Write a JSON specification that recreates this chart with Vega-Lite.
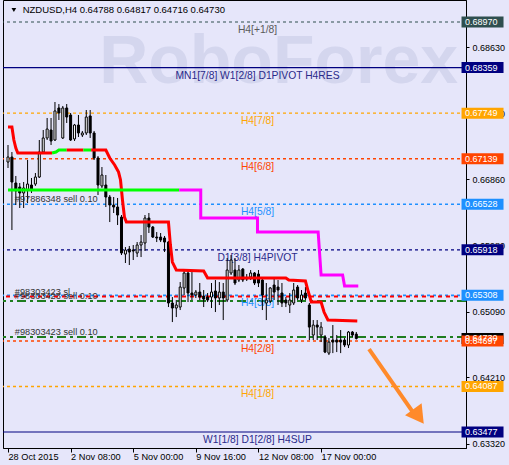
{
  "$schema": "https://vega.github.io/schema/vega-lite/v6.json",
  "width": 463,
  "height": 448,
  "autosize": "none",
  "padding": {"left": 3, "top": 0, "right": 43, "bottom": 17},
  "background": "#E6E6FA",
  "config": {"view": {"stroke": "black", "strokeWidth": 1}, "font": "Liberation Sans"},
  "datasets": {
    "candles": [
      {"i":0,"o":0.67094,"h":0.67322,"l":0.67014,"c":0.67161},
      {"i":1,"o":0.67161,"h":0.67228,"l":0.66183,"c":0.66826},
      {"i":2,"o":0.66813,"h":0.66907,"l":0.66518,"c":0.66706},
      {"i":3,"o":0.66759,"h":0.66813,"l":0.66478,"c":0.66679},
      {"i":4,"o":0.66679,"h":0.66826,"l":0.66478,"c":0.66746},
      {"i":5,"o":0.66719,"h":0.67121,"l":0.66545,"c":0.66799},
      {"i":6,"o":0.66786,"h":0.6688,"l":0.66679,"c":0.66719},
      {"i":7,"o":0.66799,"h":0.66947,"l":0.66773,"c":0.66893},
      {"i":8,"o":0.66893,"h":0.67389,"l":0.6688,"c":0.67228},
      {"i":9,"o":0.67228,"h":0.67523,"l":0.67215,"c":0.67416},
      {"i":10,"o":0.67416,"h":0.67684,"l":0.67389,"c":0.67536},
      {"i":11,"o":0.67523,"h":0.67684,"l":0.67322,"c":0.67376},
      {"i":12,"o":0.67389,"h":0.67898,"l":0.67376,"c":0.67778},
      {"i":13,"o":0.67818,"h":0.67871,"l":0.67657,"c":0.67751},
      {"i":14,"o":0.67416,"h":0.67845,"l":0.67403,"c":0.67818},
      {"i":15,"o":0.67818,"h":0.67871,"l":0.67617,"c":0.67697},
      {"i":16,"o":0.67724,"h":0.67751,"l":0.67376,"c":0.67389},
      {"i":17,"o":0.67403,"h":0.67604,"l":0.67376,"c":0.6759},
      {"i":18,"o":0.6759,"h":0.67724,"l":0.67429,"c":0.67483},
      {"i":19,"o":0.67456,"h":0.6751,"l":0.67429,"c":0.67483},
      {"i":20,"o":0.67483,"h":0.67791,"l":0.67456,"c":0.67697},
      {"i":21,"o":0.67711,"h":0.67791,"l":0.67416,"c":0.67483},
      {"i":22,"o":0.67483,"h":0.6751,"l":0.67121,"c":0.67148},
      {"i":23,"o":0.67148,"h":0.67174,"l":0.66652,"c":0.66786},
      {"i":24,"o":0.66773,"h":0.67027,"l":0.66746,"c":0.6692},
      {"i":25,"o":0.66786,"h":0.6692,"l":0.66491,"c":0.66625},
      {"i":26,"o":0.66625,"h":0.66652,"l":0.6629,"c":0.66518},
      {"i":27,"o":0.66518,"h":0.66625,"l":0.66411,"c":0.66491},
      {"i":28,"o":0.66491,"h":0.66612,"l":0.6625,"c":0.66384},
      {"i":29,"o":0.66357,"h":0.66384,"l":0.65848,"c":0.65875},
      {"i":30,"o":0.65861,"h":0.65955,"l":0.65741,"c":0.65915},
      {"i":31,"o":0.65928,"h":0.65969,"l":0.65714,"c":0.65888},
      {"i":32,"o":0.65915,"h":0.65982,"l":0.65781,"c":0.65902},
      {"i":33,"o":0.65875,"h":0.66022,"l":0.65821,"c":0.65982},
      {"i":34,"o":0.65982,"h":0.66116,"l":0.65821,"c":0.66022},
      {"i":35,"o":0.66009,"h":0.66384,"l":0.65902,"c":0.66344},
      {"i":36,"o":0.66344,"h":0.66411,"l":0.66143,"c":0.66223},
      {"i":37,"o":0.66223,"h":0.66237,"l":0.66076,"c":0.66089},
      {"i":38,"o":0.66089,"h":0.66156,"l":0.66022,"c":0.66076},
      {"i":39,"o":0.66089,"h":0.66143,"l":0.66022,"c":0.66049},
      {"i":40,"o":0.66076,"h":0.66103,"l":0.65888,"c":0.66022},
      {"i":41,"o":0.66022,"h":0.66036,"l":0.65151,"c":0.65205},
      {"i":42,"o":0.65205,"h":0.65285,"l":0.6495,"c":0.65138},
      {"i":43,"o":0.65138,"h":0.65245,"l":0.65017,"c":0.65178},
      {"i":44,"o":0.65151,"h":0.65486,"l":0.65111,"c":0.65419},
      {"i":45,"o":0.65406,"h":0.65647,"l":0.65312,"c":0.65607},
      {"i":46,"o":0.65607,"h":0.65647,"l":0.65218,"c":0.65339},
      {"i":47,"o":0.65339,"h":0.6562,"l":0.65245,"c":0.65312},
      {"i":48,"o":0.65312,"h":0.65379,"l":0.65272,"c":0.65352},
      {"i":49,"o":0.65352,"h":0.65473,"l":0.65245,"c":0.65285},
      {"i":50,"o":0.65299,"h":0.65379,"l":0.65151,"c":0.65258},
      {"i":51,"o":0.65285,"h":0.65339,"l":0.65218,"c":0.65245},
      {"i":52,"o":0.65285,"h":0.65473,"l":0.65138,"c":0.65352},
      {"i":53,"o":0.65366,"h":0.65513,"l":0.65084,"c":0.65272},
      {"i":54,"o":0.65272,"h":0.65486,"l":0.65178,"c":0.65352},
      {"i":55,"o":0.65352,"h":0.65473,"l":0.64977,"c":0.65272},
      {"i":56,"o":0.65245,"h":0.65808,"l":0.65218,"c":0.65647},
      {"i":57,"o":0.65607,"h":0.65848,"l":0.6558,"c":0.65781},
      {"i":58,"o":0.65647,"h":0.65808,"l":0.65446,"c":0.65473},
      {"i":59,"o":0.65513,"h":0.65714,"l":0.65486,"c":0.65647},
      {"i":60,"o":0.6566,"h":0.65674,"l":0.65486,"c":0.65513},
      {"i":61,"o":0.6554,"h":0.65593,"l":0.655,"c":0.65527},
      {"i":62,"o":0.65553,"h":0.65647,"l":0.65513,"c":0.65607},
      {"i":63,"o":0.65607,"h":0.6562,"l":0.65446,"c":0.65473},
      {"i":64,"o":0.65593,"h":0.65647,"l":0.65419,"c":0.65473},
      {"i":65,"o":0.65513,"h":0.6554,"l":0.65111,"c":0.65312},
      {"i":66,"o":0.65205,"h":0.65473,"l":0.64977,"c":0.65245},
      {"i":67,"o":0.65231,"h":0.65419,"l":0.65205,"c":0.65406},
      {"i":68,"o":0.65446,"h":0.6554,"l":0.65245,"c":0.65352},
      {"i":69,"o":0.65419,"h":0.65513,"l":0.65178,"c":0.65379},
      {"i":70,"o":0.65339,"h":0.65473,"l":0.65151,"c":0.65205},
      {"i":71,"o":0.65245,"h":0.65285,"l":0.65151,"c":0.65205},
      {"i":72,"o":0.65178,"h":0.65339,"l":0.65071,"c":0.65245},
      {"i":73,"o":0.65205,"h":0.65473,"l":0.65178,"c":0.65379},
      {"i":74,"o":0.65419,"h":0.65446,"l":0.65245,"c":0.65272},
      {"i":75,"o":0.65245,"h":0.65379,"l":0.65205,"c":0.65312},
      {"i":76,"o":0.65339,"h":0.65419,"l":0.65245,"c":0.65272},
      {"i":77,"o":0.65178,"h":0.65205,"l":0.64709,"c":0.64883},
      {"i":78,"o":0.64776,"h":0.64977,"l":0.64709,"c":0.6491},
      {"i":79,"o":0.6491,"h":0.64977,"l":0.64709,"c":0.64883},
      {"i":80,"o":0.64776,"h":0.6495,"l":0.64682,"c":0.64883},
      {"i":81,"o":0.64749,"h":0.64776,"l":0.64534,"c":0.64548},
      {"i":82,"o":0.64534,"h":0.64736,"l":0.64508,"c":0.64682},
      {"i":83,"o":0.64709,"h":0.6491,"l":0.64534,"c":0.64682},
      {"i":84,"o":0.64709,"h":0.64776,"l":0.64548,"c":0.64682},
      {"i":85,"o":0.64709,"h":0.64843,"l":0.64534,"c":0.64682},
      {"i":86,"o":0.64709,"h":0.64736,"l":0.64615,"c":0.64642},
      {"i":87,"o":0.64642,"h":0.6483,"l":0.64602,"c":0.64816},
      {"i":88,"o":0.64816,"h":0.6483,"l":0.64749,"c":0.64776},
      {"i":89,"o":0.64788,"h":0.64817,"l":0.64716,"c":0.6473}
    ],
    "levels": [
      {"p":0.6897,"label":"H4[+1/8]","kind":"gray"},
      {"p":0.68359,"label":"MN1[7/8] W1[2/8] D1PIVOT H4RES","kind":"navysolid"},
      {"p":0.67749,"label":"H4[7/8]","kind":"orange"},
      {"p":0.67139,"label":"H4[6/8]","kind":"red"},
      {"p":0.66528,"label":"H4[5/8]","kind":"blue"},
      {"p":0.65918,"label":"D1[3/8] H4PIVOT","kind":"navydash"},
      {"p":0.65308,"label":"H4[3/8]","kind":"blue"},
      {"p":0.64697,"label":"H4[2/8]","kind":"red"},
      {"p":0.64087,"label":"H4[1/8]","kind":"orange"},
      {"p":0.63477,"label":"W1[1/8] D1[2/8] H4SUP","kind":"navysolid"}
    ],
    "orders": [
      {"p":0.65292,"kind":"sl","t":"#98303423 sl"},
      {"p":0.65232,"kind":"order","t":"#98303423 sell 0.10"},
      {"p":0.64749,"kind":"order","t":"#98303423 sell 0.10"}
    ],
    "ind": [
      {"n":1,"seg":"a","kind":"dn","i":0,"p":0.67563},
      {"n":2,"seg":"a","kind":"dn","i":1,"p":0.67563},
      {"n":3,"seg":"a","kind":"dn","i":1.5,"p":0.67389},
      {"n":4,"seg":"a","kind":"dn","i":2,"p":0.67282},
      {"n":5,"seg":"a","kind":"dn","i":2.5,"p":0.67215},
      {"n":6,"seg":"a","kind":"dn","i":11.25,"p":0.67215},
      {"n":7,"seg":"b","kind":"up","i":11.25,"p":0.67215},
      {"n":8,"seg":"b","kind":"up","i":12.25,"p":0.67228},
      {"n":9,"seg":"b","kind":"up","i":13,"p":0.67255},
      {"n":10,"seg":"b","kind":"up","i":15,"p":0.67255},
      {"n":11,"seg":"c","kind":"dn","i":15,"p":0.67255},
      {"n":12,"seg":"c","kind":"dn","i":19.25,"p":0.67255},
      {"n":13,"seg":"d","kind":"up","i":19.25,"p":0.67255},
      {"n":14,"seg":"d","kind":"up","i":21.25,"p":0.67255},
      {"n":15,"seg":"e","kind":"dn","i":21.25,"p":0.67255},
      {"n":16,"seg":"e","kind":"dn","i":25,"p":0.67255},
      {"n":17,"seg":"e","kind":"dn","i":26,"p":0.67148},
      {"n":18,"seg":"e","kind":"dn","i":27.25,"p":0.67054},
      {"n":19,"seg":"e","kind":"dn","i":28.25,"p":0.6696},
      {"n":20,"seg":"e","kind":"dn","i":28.75,"p":0.66853},
      {"n":21,"seg":"e","kind":"dn","i":29.25,"p":0.66585},
      {"n":22,"seg":"e","kind":"dn","i":29.75,"p":0.66357},
      {"n":23,"seg":"e","kind":"dn","i":30.25,"p":0.6629},
      {"n":24,"seg":"e","kind":"dn","i":41,"p":0.6629},
      {"n":25,"seg":"e","kind":"dn","i":41.5,"p":0.65982},
      {"n":26,"seg":"e","kind":"dn","i":42,"p":0.65754},
      {"n":27,"seg":"e","kind":"dn","i":43,"p":0.65647},
      {"n":28,"seg":"e","kind":"dn","i":50,"p":0.65634},
      {"n":29,"seg":"e","kind":"dn","i":51,"p":0.6554},
      {"n":30,"seg":"e","kind":"dn","i":71,"p":0.6554},
      {"n":31,"seg":"e","kind":"dn","i":71.75,"p":0.65513},
      {"n":32,"seg":"e","kind":"dn","i":76,"p":0.655},
      {"n":33,"seg":"e","kind":"dn","i":76.75,"p":0.65352},
      {"n":34,"seg":"e","kind":"dn","i":77.5,"p":0.65218},
      {"n":35,"seg":"e","kind":"dn","i":80,"p":0.65218},
      {"n":36,"seg":"e","kind":"dn","i":80.75,"p":0.65084},
      {"n":37,"seg":"e","kind":"dn","i":81.75,"p":0.64977},
      {"n":38,"seg":"e","kind":"dn","i":89.25,"p":0.64963},
      {"n":39,"seg":"f","kind":"up","i":0,"p":0.66719},
      {"n":40,"seg":"f","kind":"up","i":43.75,"p":0.66719},
      {"n":41,"seg":"g","kind":"alt","i":43.75,"p":0.66719},
      {"n":42,"seg":"g","kind":"alt","i":49.25,"p":0.66719},
      {"n":43,"seg":"g","kind":"alt","i":49.25,"p":0.66344},
      {"n":44,"seg":"g","kind":"alt","i":63.75,"p":0.66344},
      {"n":45,"seg":"g","kind":"alt","i":63.75,"p":0.66156},
      {"n":46,"seg":"g","kind":"alt","i":79.25,"p":0.66156},
      {"n":47,"seg":"g","kind":"alt","i":80,"p":0.6558},
      {"n":48,"seg":"g","kind":"alt","i":85.5,"p":0.6558},
      {"n":49,"seg":"g","kind":"alt","i":86,"p":0.65433},
      {"n":50,"seg":"g","kind":"alt","i":89.5,"p":0.65433}
    ],
    "boxes": [
      {"p":0.6897,"kind":"gray"},
      {"p":0.68359,"kind":"navysolid"},
      {"p":0.67749,"kind":"orange"},
      {"p":0.67139,"kind":"red"},
      {"p":0.66528,"kind":"blue"},
      {"p":0.65918,"kind":"navydash"},
      {"p":0.65308,"kind":"blue"},
      {"p":0.6473,"kind":"price"},
      {"p":0.64697,"kind":"red"},
      {"p":0.64087,"kind":"orange"},
      {"p":0.63477,"kind":"navysolid"}
    ],
    "arrow": [
      {"n":1,"i":92.25,"p":0.64588},
      {"n":2,"i":103.5,"p":0.6374}
    ],
    "arrowhead": [
      {"i":104.9,"p":0.63685}
    ]
  },
  "layer": [
    {
      "data": {"values": [{"t": "RoboForex"}]},
      "mark": {"type": "text", "fontSize": 68, "fontWeight": "bold", "color": "#D4D6EE", "align": "left", "baseline": "middle", "font": "Liberation Sans"},
      "encoding": {
        "x": {"datum": 23.3, "type": "quantitative"},
        "y": {"datum": 0.68421, "type": "quantitative"},
        "text": {"field": "t"}
      }
    },
    {
      "data": {"name": "levels"},
      "mark": {"type": "rule"},
      "encoding": {
        "y": {"field": "p", "type": "quantitative"},
        "color": {"field": "kind", "type": "nominal", "legend": null, "scale": {"domain": ["gray","navysolid","navydash","orange","red","blue","price","sl","order","dn","up","alt"], "range": ["#2F4F4F","#000080","#000080","#FFA500","#FF4500","#1E90FF","#000000","#FF0000","#1E7D1E","#FF0000","#00FF00","#FF00FF"]}},
        "strokeDash": {"field": "kind", "type": "nominal", "legend": null, "scale": {"domain": ["gray","navysolid","navydash","orange","red","blue","price","sl","order"], "range": [[3,3],[1,0],[3,3],[3,3],[3,3],[3,3],[1,0],[4,4],[9,4,3,4]]}},
        "strokeWidth": {"field": "kind", "type": "nominal", "legend": null, "scale": {"domain": ["gray","navysolid","navydash","orange","red","blue","price","sl","order"], "range": [1,2,1,1,1,1,1,1,1.3]}}
      }
    },
    {
      "data": {"name": "orders"},
      "mark": {"type": "rule"},
      "encoding": {
        "y": {"field": "p", "type": "quantitative"},
        "color": {"field": "kind", "type": "nominal", "legend": null, "scale": {"domain": ["gray","navysolid","navydash","orange","red","blue","price","sl","order","dn","up","alt"], "range": ["#2F4F4F","#000080","#000080","#FFA500","#FF4500","#1E90FF","#000000","#FF0000","#1E7D1E","#FF0000","#00FF00","#FF00FF"]}},
        "strokeDash": {"field": "kind", "type": "nominal", "legend": null, "scale": {"domain": ["gray","navysolid","navydash","orange","red","blue","price","sl","order"], "range": [[3,3],[1,0],[3,3],[3,3],[3,3],[3,3],[1,0],[4,4],[9,4,3,4]]}},
        "strokeWidth": {"field": "kind", "type": "nominal", "legend": null, "scale": {"domain": ["gray","navysolid","navydash","orange","red","blue","price","sl","order"], "range": [1,2,1,1,1,1,1,1,1.3]}}
      }
    },
    {
      "data": {"name": "levels"},
      "mark": {"type": "text", "align": "center", "baseline": "top", "dy": 3, "fontSize": 10.3, "font": "Liberation Sans"},
      "encoding": {
        "x": {"datum": 63.75, "type": "quantitative"},
        "y": {"field": "p", "type": "quantitative"},
        "text": {"field": "label"},
        "fill": {"field": "kind", "type": "nominal", "legend": null, "scale": {"domain": ["gray","navysolid","navydash","orange","red","blue"], "range": ["#5A5A5A","#2A2A8A","#2A2A8A","#FFA500","#FF4500","#1E90FF"]}}
      }
    },
    {
      "data": {"name": "candles"},
      "mark": {"type": "rule", "color": "black", "strokeWidth": 1},
      "encoding": {
        "x": {"field": "i", "type": "quantitative", "scale": {"domain": [0, 115.75], "nice": false, "zero": false},
          "axis": {"values": [0,16,32,48,64,80], "title": null, "grid": false, "domainColor": "black", "tickColor": "black", "tickSize": 4, "labelAlign": "left", "labelBaseline": "top", "labelPadding": 0, "labelFontSize": 9.2, "labelFont": "Liberation Sans", "labelColor": "black", "labelFlush": false, "labelOverlap": false,
            "labelExpr": "datum.value==0?'28 Oct 2015':datum.value==16?'2 Nov 08:00':datum.value==32?'5 Nov 00:00':datum.value==48?'9 Nov 16:00':datum.value==64?'12 Nov 08:00':'17 Nov 00:00'"}},
        "y": {"field": "l", "type": "quantitative", "scale": {"domain": [0.632625, 0.692648], "nice": false, "zero": false},
          "axis": {"orient": "right", "values": [0.6907,0.6863,0.6819,0.6775,0.673,0.6686,0.6642,0.6598,0.6553,0.6509,0.6465,0.6421,0.6376,0.6332], "format": ".5f", "title": null, "grid": false, "domainColor": "black", "tickColor": "black", "tickSize": 3, "labelAlign": "left", "labelBaseline": "middle", "labelPadding": 3, "labelFontSize": 9, "labelFont": "Liberation Sans", "labelColor": "black", "labelFlush": false, "labelOverlap": false}},
        "y2": {"field": "h"}
      }
    },
    {
      "data": {"name": "candles"},
      "mark": {"type": "bar", "size": 2, "stroke": "black", "strokeWidth": 1},
      "encoding": {
        "x": {"field": "i", "type": "quantitative"},
        "y": {"field": "o", "type": "quantitative"},
        "y2": {"field": "c"},
        "fill": {"condition": {"test": "datum.c >= datum.o", "value": "white"}, "value": "black"}
      }
    },
    {
      "data": {"name": "ind"},
      "mark": {"type": "line", "strokeWidth": 3, "strokeJoin": "miter", "strokeCap": "butt"},
      "encoding": {
        "x": {"field": "i", "type": "quantitative"},
        "y": {"field": "p", "type": "quantitative"},
        "detail": {"field": "seg"},
        "order": {"field": "n"},
        "color": {"field": "kind", "type": "nominal", "legend": null, "scale": {"domain": ["gray","navysolid","navydash","orange","red","blue","price","sl","order","dn","up","alt"], "range": ["#2F4F4F","#000080","#000080","#FFA500","#FF4500","#1E90FF","#000000","#FF0000","#1E7D1E","#FF0000","#00FF00","#FF00FF"]}}
      }
    },
    {
      "data": {"values": [{"t": "#97886348 sell 0.10", "p": 0.66528}]},
      "mark": {"type": "text", "align": "left", "baseline": "alphabetic", "dy": -2, "fontSize": 9.2, "color": "#333333", "font": "Liberation Sans"},
      "encoding": {
        "x": {"datum": 1.75, "type": "quantitative"},
        "y": {"field": "p", "type": "quantitative"},
        "text": {"field": "t"}
      }
    },
    {
      "data": {"name": "orders"},
      "mark": {"type": "text", "align": "left", "baseline": "alphabetic", "dy": -2, "fontSize": 9.2, "color": "#333333", "font": "Liberation Sans"},
      "encoding": {
        "x": {"datum": 1.75, "type": "quantitative"},
        "y": {"field": "p", "type": "quantitative"},
        "text": {"field": "t"}
      }
    },
    {
      "data": {"name": "arrow"},
      "mark": {"type": "line", "color": "#FF8A2A", "strokeWidth": 4, "strokeCap": "butt"},
      "encoding": {
        "x": {"field": "i", "type": "quantitative"},
        "y": {"field": "p", "type": "quantitative"},
        "order": {"field": "n"}
      }
    },
    {
      "data": {"name": "arrowhead"},
      "mark": {"type": "point", "shape": "triangle-up", "size": 420, "angle": 144, "filled": true, "color": "#FF8A2A", "opacity": 1},
      "encoding": {
        "x": {"field": "i", "type": "quantitative"},
        "y": {"field": "p", "type": "quantitative"}
      }
    },
    {
      "data": {"values": [{"t": "NZDUSD,H4  0.64788 0.64817 0.64716 0.64730"}]},
      "mark": {"type": "text", "align": "left", "baseline": "middle", "fontSize": 9.5, "color": "black", "font": "Liberation Sans"},
      "encoding": {
        "x": {"datum": 3.75, "type": "quantitative"},
        "y": {"datum": 0.69131, "type": "quantitative"},
        "text": {"field": "t"}
      }
    },
    {
      "data": {"values": [{"t": "tri"}]},
      "mark": {"type": "point", "shape": "triangle-down", "size": 22, "filled": true, "color": "black", "opacity": 1},
      "encoding": {
        "x": {"datum": 1.5, "type": "quantitative"},
        "y": {"datum": 0.69131, "type": "quantitative"}
      }
    },
    {
      "data": {"name": "boxes"},
      "mark": {"type": "tick", "orient": "horizontal", "size": 42, "thickness": 11, "opacity": 1},
      "encoding": {
        "x": {"datum": 121.25, "type": "quantitative"},
        "y": {"field": "p", "type": "quantitative"},
        "color": {"field": "kind", "type": "nominal", "legend": null, "scale": {"domain": ["gray","navysolid","navydash","orange","red","blue","price","sl","order","dn","up","alt"], "range": ["#2F4F4F","#000080","#000080","#FFA500","#FF4500","#1E90FF","#000000","#FF0000","#1E7D1E","#FF0000","#00FF00","#FF00FF"]}}
      }
    },
    {
      "data": {"name": "boxes"},
      "mark": {"type": "text", "align": "left", "baseline": "middle", "fontSize": 9, "color": "white", "font": "Liberation Sans"},
      "encoding": {
        "x": {"datum": 116.75, "type": "quantitative"},
        "y": {"field": "p", "type": "quantitative"},
        "text": {"field": "p", "type": "quantitative", "format": ".5f"}
      }
    }
  ]
}
